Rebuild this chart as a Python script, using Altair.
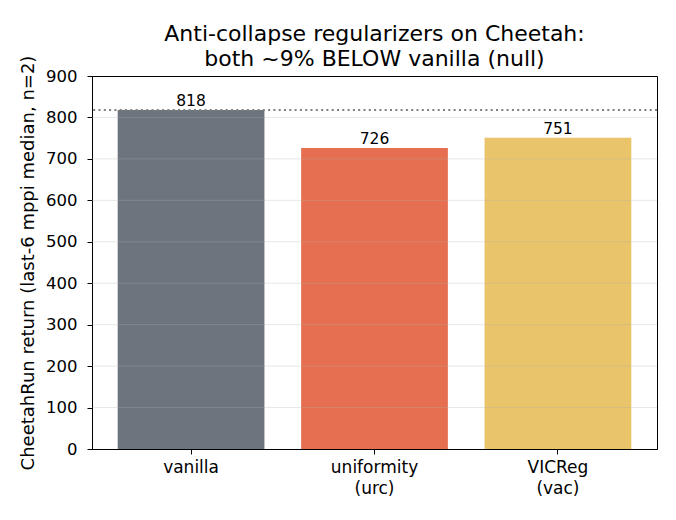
import altair as alt
import pandas as pd

# Bar data
methods = ["vanilla", "uniformity\n(urc)", "VICReg\n(vac)"]
returns = [818, 726, 751]
colors = ["#6c757d", "#e76f51", "#e9c46a"]
vanilla_ref = [818]
y_ticks = [0, 100, 200, 300, 400, 500, 600, 700, 800, 900]
grid_vals = [100, 200, 300, 400, 500, 600, 700, 800]

df = pd.DataFrame({"method": methods, "ret": returns, "color": colors})
ref_df = pd.DataFrame({"ref": vanilla_ref})
grid_df = pd.DataFrame({"g": grid_vals})

FONT = "DejaVu Sans"

y_scale = alt.Scale(domain=[0, 900], nice=False)

bars = alt.Chart(df).mark_bar().encode(
    x=alt.X(
        "method:N",
        sort=methods,
        scale=alt.Scale(paddingInner=0.2, paddingOuter=0.14),
        axis=alt.Axis(
            title=None,
            labelAngle=0,
            labelExpr="split(datum.label, '\\n')",
            labelFontSize=17,
            labelFont=FONT,
            labelColor="black",
            labelPadding=5,
            labelLineHeight=21,
            tickColor="black",
            tickSize=5,
            domainColor="black",
            grid=False,
        ),
    ),
    y=alt.Y(
        "ret:Q",
        scale=y_scale,
        axis=alt.Axis(
            title="CheetahRun return (last-6 mppi median, n=2)",
            titleFontSize=18,
            titleFont=FONT,
            titleFontWeight="normal",
            titleColor="black",
            titlePadding=8,
            values=y_ticks,
            labelFontSize=16.5,
            labelFont=FONT,
            labelColor="black",
            labelPadding=10,
            tickColor="black",
            tickSize=5,
            domainColor="black",
            grid=False,
        ),
    ),
    color=alt.Color("color:N", scale=None),
)

# faint horizontal gridlines drawn over the bars
grid = alt.Chart(grid_df).mark_rule(
    color="#b0b0b0", opacity=0.3, strokeWidth=1
).encode(y=alt.Y("g:Q", scale=y_scale))

labels = alt.Chart(df).mark_text(
    baseline="bottom", dy=-1, fontSize=15.5, font=FONT, color="black"
).encode(
    x=alt.X("method:N", sort=methods),
    y=alt.Y("ret:Q", scale=y_scale),
    text=alt.Text("ret:Q", format="d"),
)

ref_line = alt.Chart(ref_df).mark_rule(
    color="#7f7f7f", strokeWidth=2, strokeDash=[2, 3.3]
).encode(y=alt.Y("ref:Q", scale=y_scale))

chart = (
    alt.layer(bars, grid, ref_line, labels)
    .properties(
        width=565,
        height=373,
        background="white",
        title=alt.TitleParams(
            text=["Anti-collapse regularizers on Cheetah:", "both ~9% BELOW vanilla (null)"],
            fontSize=22,
            font=FONT,
            fontWeight="normal",
            color="black",
            anchor="middle",
            lineHeight=25,
            offset=6,
            dy=22,
        ),
        autosize=alt.AutoSizeParams(type="none"),
        padding={"left": 92, "top": 76, "right": 19, "bottom": 71},
    )
    .configure_view(stroke="black", strokeWidth=1)
)

chart.save("out.html", embed_options={"renderer": "svg", "actions": False})
